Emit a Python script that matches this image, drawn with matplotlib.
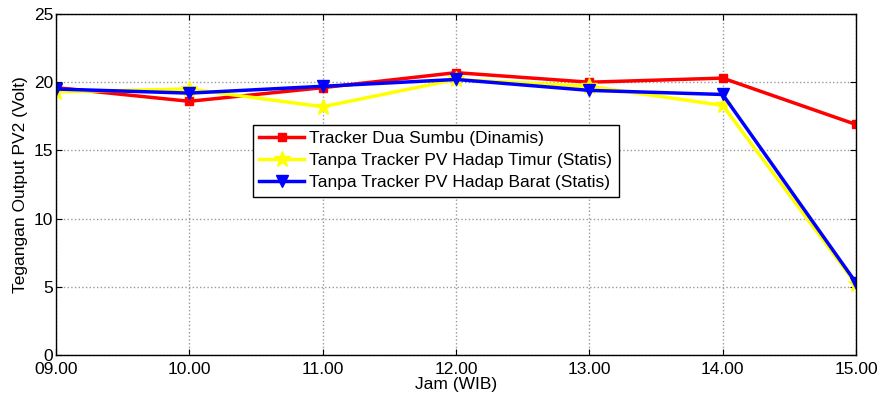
import matplotlib
matplotlib.use('Agg')
import matplotlib.pyplot as plt

plt.rcParams['font.family'] = ['Liberation Sans', 'DejaVu Sans']

jam = ['09.00', '10.00', '11.00', '12.00', '13.00', '14.00', '15.00']
dinamis = [19.6, 18.6, 19.6, 20.7, 20.0, 20.3, 16.9]
timur = [19.3, 19.5, 18.2, 20.2, 19.7, 18.3, 5.2]
barat = [19.5, 19.2, 19.7, 20.2, 19.4, 19.1, 5.3]

fig = plt.figure(figsize=(8.77, 4.01), dpi=100)
ax = fig.add_axes([56/877, 46/401, 800/877, 341/401])

x = list(range(len(jam)))
ax.plot(x, dinamis, color='#FF0000', marker='s', markersize=6, linewidth=2.5,
        label='Tracker Dua Sumbu (Dinamis)')
ax.plot(x, timur, color='#FFFF00', marker='*', markersize=12, linewidth=2.5,
        label='Tanpa Tracker PV Hadap Timur (Statis)')
ax.plot(x, barat, color='#0000FF', marker='v', markersize=8, linewidth=2.5,
        label='Tanpa Tracker PV Hadap Barat (Statis)')

ax.set_xlim(0, 6)
ax.set_ylim(0, 25)
ax.set_xticks(x)
ax.set_xticklabels(jam)
ax.set_yticks([0, 5, 10, 15, 20, 25])
ax.tick_params(direction='in', labelsize=12.5, top=True, right=True, length=4, pad=2)
ax.tick_params(axis='x', pad=5)
ax.grid(True, color='#999999', linestyle=':', linewidth=1)
for s in ax.spines.values():
    s.set_linewidth(1)
ax.set_xlabel('Jam (WIB)', fontsize=12.5, labelpad=0)
ax.set_ylabel('Tegangan Output PV2 (Volt)', fontsize=12.5, labelpad=4)

leg = ax.legend(loc='upper left', bbox_to_anchor=(197/800, 230/341), fontsize=12.5,
                fancybox=False, framealpha=1, edgecolor='black',
                borderpad=0.35, labelspacing=0.4, handlelength=2.6,
                handletextpad=0.3, borderaxespad=0)
leg.get_frame().set_linewidth(1)

fig.savefig('out.png', dpi=100)
